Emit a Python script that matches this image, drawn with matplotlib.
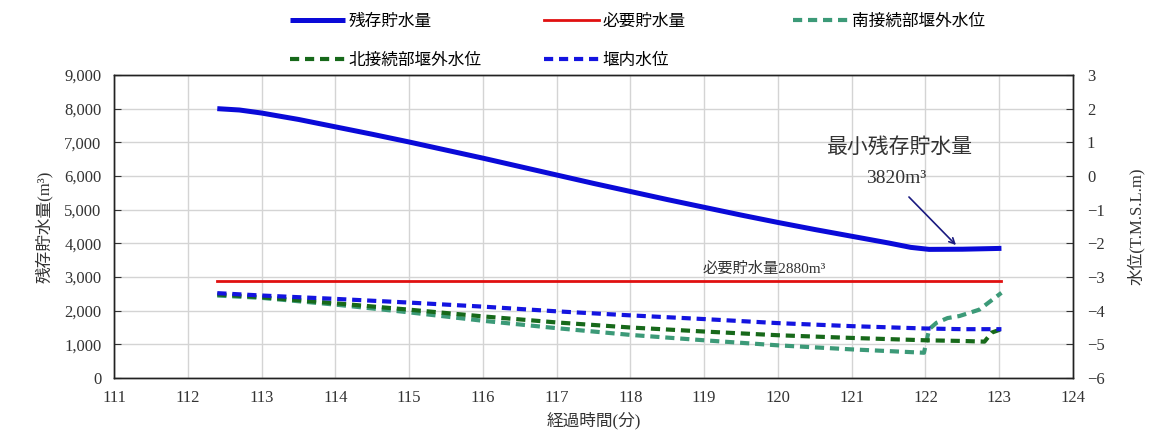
import matplotlib
matplotlib.use('Agg')
import matplotlib.pyplot as plt
from matplotlib.ticker import FuncFormatter

plt.rcParams['font.family'] = ['Liberation Serif', 'Noto Sans CJK JP']
plt.rcParams['axes.unicode_minus'] = True

# --- data ---
# remaining storage (m3), left axis
t_storage = [112.4, 112.7, 113, 113.5, 114, 114.5, 115, 115.5, 116, 116.5, 117, 117.5, 118, 118.5,
             119, 119.5, 120, 120.5, 121, 121.5, 121.8, 122.05, 122.5, 123.03]
storage = [8000, 7960, 7870, 7680, 7460, 7240, 7010, 6770, 6530, 6280, 6030, 5780, 5540, 5300,
           5070, 4840, 4620, 4410, 4210, 4010, 3880, 3820, 3825, 3850]

# required storage (m3)
t_required = [112.4, 123.03]
required = [2880, 2880]

# water levels (T.M.S.L. m), right axis
t_south = [112.4, 113, 114, 115, 116, 117, 118, 119, 120, 121, 121.98, 122.05, 122.15, 122.3, 122.46, 122.73, 123.03]
south = [-3.55, -3.62, -3.82, -4.05, -4.3, -4.52, -4.72, -4.88, -5.03, -5.15, -5.25, -4.55, -4.36, -4.22, -4.16, -3.97, -3.47]

t_north = [112.4, 113, 114, 115, 116, 117, 118, 119, 120, 121, 122, 122.5, 122.8, 122.9, 123.03]
north = [-3.52, -3.6, -3.78, -3.97, -4.17, -4.35, -4.5, -4.62, -4.73, -4.81, -4.88, -4.9, -4.92, -4.65, -4.55]

t_inner = [112.4, 113, 114, 115, 116, 117, 118, 119, 120, 121, 122, 122.5, 123.03]
inner = [-3.48, -3.55, -3.65, -3.76, -3.88, -4.02, -4.14, -4.25, -4.37, -4.46, -4.53, -4.55, -4.55]

labels = ['残存貯水量', '必要貯水量', '南接続部堰外水位', '北接続部堰外水位', '堰内水位']
x_ticks = list(range(111, 125))
y_ticks = list(range(0, 9001, 1000))
y2_ticks = list(range(-6, 4))

fig = plt.figure(figsize=(11.54, 4.38), dpi=100)
ax = fig.add_axes([0.0988, 0.137, 0.8310, 0.6918])
ax2 = ax.twinx()

dash = (2.2, 1.4)
l1, = ax.plot(t_storage, storage, color='#0a0ad8', lw=3.6, solid_capstyle='butt', zorder=3)
l2, = ax.plot(t_required, required, color='#e01010', lw=2.0, zorder=3)
l3, = ax2.plot(t_south, south, color='#3c9a78', lw=3.0, dashes=dash)
l4, = ax2.plot(t_north, north, color='#17691a', lw=3.0, dashes=dash)
l5, = ax2.plot(t_inner, inner, color='#1414e0', lw=3.0, dashes=dash)

ax.set_xlim(111, 124)
ax.set_ylim(0, 9000)
ax2.set_ylim(-6, 3)
ax.set_xticks(x_ticks)
ax.set_yticks(y_ticks)
ax2.set_yticks(y2_ticks)
ax.yaxis.set_major_formatter(FuncFormatter(lambda v, p: f'{int(v):,}'))

ax.grid(True, color='#d4d4d4', lw=1.0)
ax.set_axisbelow(True)
ax.tick_params(axis='x', length=0, pad=9, labelsize=12, colors='#333333')
ax.tick_params(axis='y', direction='in', length=5, pad=9, labelsize=12, colors='#333333')
ax2.tick_params(axis='y', direction='in', length=5, pad=10, labelsize=12, colors='#333333')
for a in (ax, ax2):
    for s in a.spines.values():
        s.set_color('#222222')
        s.set_linewidth(1.0)

ax.set_xlabel('経過時間(分)', fontsize=12, labelpad=4, color='#333333')
ax.set_ylabel('残存貯水量(m³)', fontsize=12, labelpad=8, color='#333333')
ax2.set_ylabel('水位(T.M.S.L.m)', fontsize=12, labelpad=16, color='#333333')

# annotations
ax.text(121.65, 6830, '最小残存貯水量', fontsize=15, ha='center', va='center', color='#333333')
ax.text(121.61, 5940, '3820m³', fontsize=14, ha='center', va='center', color='#333333')
ax.annotate('', xy=(122.44, 3890), xytext=(121.75, 5435),
            arrowprops=dict(arrowstyle='->', color='#1a1a80', lw=1.2))
ax.text(119.82, 3240, '必要貯水量2880m³', fontsize=11, ha='center', va='center', color='#333333')

# legend, three manually placed columns
leg_kw = dict(loc='upper left', frameon=False, fontsize=12, borderpad=0, handlelength=3.3,
              handletextpad=0.2, labelspacing=1.35)
fig.legend([l1, l4], [labels[0], labels[3]], bbox_to_anchor=(282 / 1154, 1 - 6 / 438), **leg_kw)
fig.legend([l2, l5], [labels[1], labels[4]], bbox_to_anchor=(536 / 1154, 1 - 6 / 438), **leg_kw)
fig.legend([l3], [labels[2]], bbox_to_anchor=(785 / 1154, 1 - 6 / 438), **leg_kw)

fig.savefig('out.png', dpi=100)
